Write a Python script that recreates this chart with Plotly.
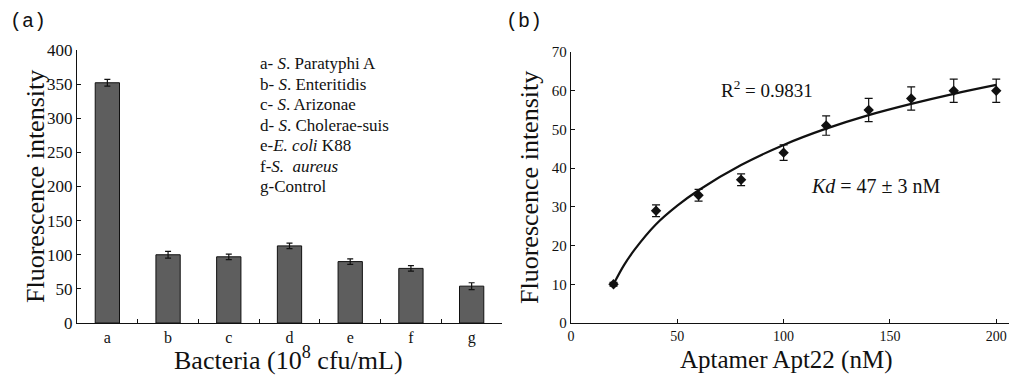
import plotly.graph_objects as go

# ---- Panel (a) data ----
categories = ["a", "b", "c", "d", "e", "f", "g"]
intensity_a = [352, 100, 97, 113, 90, 80, 54]
error_a = [5, 5, 4, 4, 4, 4, 5]
legend_lines = [
    "a- <i>S</i>. Paratyphi A",
    "b- <i>S</i>. Enteritidis",
    "c- <i>S</i>. Arizonae",
    "d- <i>S</i>. Cholerae-suis",
    "e-<i>E. coli</i> K88",
    "f-<i>S.  aureus</i>",
    "g-Control",
]

# ---- Panel (b) data ----
apt_conc = [20, 40, 60, 80, 100, 120, 140, 160, 180, 200]
intensity_b = [10, 29, 33, 37, 44, 51, 55, 58, 60, 60]
error_b = [0.5, 1.5, 1.5, 1.5, 2, 2.5, 3, 3, 3, 3]
fit_x = [20, 25, 30, 40, 50, 60, 80, 100, 120, 140, 160, 180, 200]
fit_y = [10, 15, 19, 25.5, 30.3, 34.3, 40.8, 46, 50.2, 53.7, 56.6, 59.2, 61.5]

SERIF = "Liberation Serif, Times New Roman, DejaVu Serif, serif"
BLACK = "#111111"

# page has an 8px body margin: figure drawn at (8, 8)
OFF = 8
W, H = 1024 - OFF, 379 - OFF


def px(X):
    return (X - OFF) / W


def py(Y):
    return 1 - (Y - OFF) / H


fig = go.Figure()

fig.add_trace(go.Bar(
    x=categories, y=intensity_a,
    error_y=dict(type="data", array=error_a, color=BLACK, thickness=1.2, width=3),
    marker=dict(color="#5e5e5e", line=dict(color=BLACK, width=1)),
    width=0.4, xaxis="x", yaxis="y", showlegend=False,
))

fig.add_trace(go.Scatter(
    x=fit_x, y=fit_y, mode="lines", line=dict(color=BLACK, width=2.2, shape="spline"),
    xaxis="x2", yaxis="y2", showlegend=False,
))
fig.add_trace(go.Scatter(
    x=apt_conc, y=intensity_b, mode="markers",
    marker=dict(symbol="diamond", size=8, color=BLACK),
    error_y=dict(type="data", array=error_b, color=BLACK, thickness=1.2, width=4),
    xaxis="x2", yaxis="y2", showlegend=False,
))


def axis_common(tick_size):
    return dict(
        showline=True, linecolor=BLACK, linewidth=1.3, showgrid=False, zeroline=False,
        ticks="inside", ticklen=4, tickcolor=BLACK, automargin=False,
        tickfont=dict(family=SERIF, size=tick_size, color=BLACK),
    )


fig.update_layout(
    width=W, height=H,
    margin=dict(l=0, r=0, t=0, b=0),
    plot_bgcolor="white", paper_bgcolor="white",
    xaxis=dict(domain=[px(77), px(502)], anchor="y", tickson="boundaries",
               **axis_common(16)),
    yaxis=dict(domain=[py(323), py(50)], anchor="x", range=[0, 400], dtick=50,
               **axis_common(17)),
    xaxis2=dict(domain=[px(571), px(1009)], anchor="y2", range=[0, 206], dtick=50,
                **axis_common(14)),
    yaxis2=dict(domain=[py(323), py(52)], anchor="x2", range=[0, 70], dtick=10,
                **axis_common(15)),
)


def note(text, X, Y, size, family=SERIF, xanchor="left", angle=0):
    return dict(text=text, x=px(X), y=py(Y), xref="paper", yref="paper",
                xanchor=xanchor, yanchor="middle", showarrow=False, textangle=angle,
                font=dict(family=family, size=size, color=BLACK))


annotations = [
    note("(a)", 8, 21, 20, family="Liberation Mono"),
    note("(b)", 504, 21, 20, family="Liberation Mono"),
    note("R<sup>2</sup> = 0.9831", 719, 89, 19),
    note("<i>Kd</i> = 47 ± 3 nM", 809, 186, 20),
    note("Fluorescence intensity", 35, 187, 26, xanchor="center", angle=-90),
    note("Fluorescence intensity", 529, 188, 26, xanchor="center", angle=-90),
    note("Bacteria (10<sup>8</sup> cfu/mL)", 288, 358, 26, xanchor="center"),
    note("Aptamer Apt22 (nM)", 786, 360, 25, xanchor="center"),
]
for i, line in enumerate(legend_lines):
    annotations.append(note(line, 258, 64 + i * 20.4, 17))

fig.update_layout(annotations=annotations)

fig.write_html("out.html")
